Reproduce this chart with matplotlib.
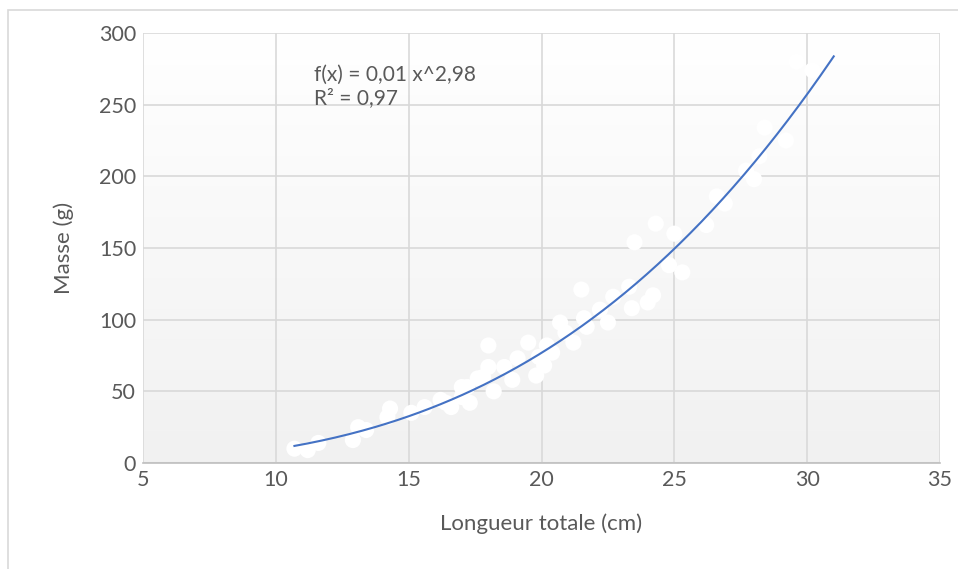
import numpy as np
import matplotlib.pyplot as plt
from matplotlib.patches import Rectangle

# Scatter data: total length (cm) and mass (g)
longueur = [10.7, 11.2, 11.6, 12.9, 13.1, 13.4, 14.2, 14.3, 15.1, 15.6, 16.2, 16.4,
            16.6, 17.0, 17.0, 17.2, 17.3, 17.6, 17.8, 18.0, 18.0, 18.2, 18.6, 18.9,
            19.1, 19.5, 19.8, 19.9, 20.1, 20.2, 20.4, 20.7, 20.9, 21.2, 21.5, 21.6,
            21.7, 22.2, 22.5, 22.7, 23.3, 23.4, 23.5, 24.0, 24.2, 24.3, 24.8, 25.0,
            25.3, 26.2, 26.6, 26.9, 27.7, 28.0, 28.2, 28.4, 29.2, 29.6, 30.2]
masse = [10, 9, 14, 16, 25, 23, 32, 38, 35, 39, 44, 42,
         39, 46, 53, 53, 42, 59, 60, 82, 67, 50, 67, 58,
         73, 84, 61, 74, 68, 82, 77, 98, 91, 84, 121, 101,
         95, 107, 98, 116, 123, 108, 154, 112, 117, 167, 138, 160,
         133, 166, 186, 181, 204, 198, 214, 234, 225, 280, 274]

# Power trendline reported by the chart
coef_a = 0.0102
coef_b = 2.98
trend_x = np.linspace(10.7, 31, 200)
trend_y = coef_a * trend_x ** coef_b

plt.rcParams['font.family'] = ['Lato', 'DejaVu Sans']

fig = plt.figure(figsize=(9.58, 5.69), dpi=100)
fig.patch.set_facecolor('white')

# chart border (cut off at right and bottom)
fig.patches.append(Rectangle((8 / 958, -0.1), 1.2, 1.1 - 10 / 569,
                             transform=fig.transFigure, fill=False,
                             edgecolor='#d9d9d9', linewidth=1.2))

ax = fig.add_axes([143 / 958, 1 - 463 / 569, (940 - 143) / 958, (463 - 33) / 569])

# gradient background of plot area
grad = np.linspace(1.0, 0.0, 256).reshape(-1, 1)
top = np.array([1.0, 1.0, 1.0])
bottom = np.array([0.945, 0.945, 0.945])
img = top * grad[..., None] + bottom * (1 - grad[..., None])
ax.imshow(img, extent=[0, 1, 0, 1], transform=ax.transAxes, aspect='auto', zorder=0)

ax.set_xlim(5, 35)
ax.set_ylim(0, 300)
ax.set_xticks(range(5, 36, 5))
ax.set_yticks(range(0, 301, 50))
ax.grid(True, color='#d9d9d9', linewidth=1.2, zorder=1)
ax.set_axisbelow(True)

for side in ['top', 'right', 'left']:
    ax.spines[side].set_visible(False)
ax.spines['bottom'].set_color('#bfbfbf')
ax.spines['bottom'].set_linewidth(1.2)
ax.tick_params(length=0, labelsize=15.5, colors='#595959', pad=5)

ax.scatter(longueur, masse, s=135, color='white', edgecolors='none', zorder=3)
ax.plot(trend_x, trend_y, color='#4472c4', linewidth=1.5, zorder=4)

ax.text(0.2146, 0.902, 'f(x) = 0,01 x^2,98', transform=ax.transAxes,
        fontsize=15, color='#595959', va='center', ha='left', zorder=5)
ax.text(0.2146, 0.849, 'R² = 0,97', transform=ax.transAxes,
        fontsize=15, color='#595959', va='center', ha='left', zorder=5)

ax.set_xlabel('Longueur totale (cm)', fontsize=16, color='#595959', labelpad=17)
ax.set_ylabel('Masse (g)', fontsize=16, color='#595959', labelpad=18)

fig.savefig('out.png', dpi=100)
